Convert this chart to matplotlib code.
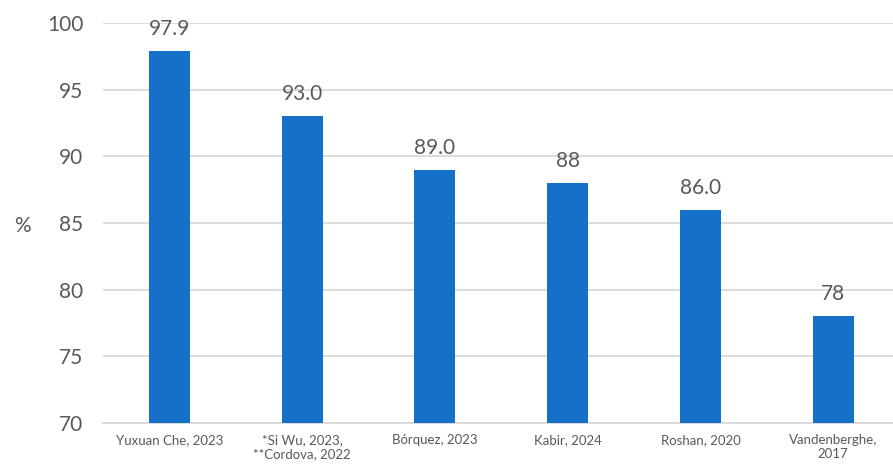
import matplotlib.pyplot as plt
import numpy as np

labels = ["Yuxuan Che, 2023", "*Si Wu, 2023,\n**Cordova, 2022", "Bórquez, 2023",
          "Kabir, 2024", "Roshan, 2020", "Vandenberghe,\n2017"]
values = [97.9, 93.0, 89.0, 88, 86.0, 78]
value_text = ["97.9", "93.0", "89.0", "88", "86.0", "78"]

plt.rcParams['font.family'] = ['Lato', 'DejaVu Sans']
grey = '#595959'
blue = '#1570C8'

fig = plt.figure(figsize=(8.93, 4.71), dpi=100)
ax = fig.add_axes([0.1153, 0.1019, 0.8847, 0.8493])

x = np.arange(len(labels))
ax.bar(x, values, width=0.31, color=blue, zorder=3)
for xi, v, t in zip(x, values, value_text):
    ax.text(xi, v + 0.9, t, ha='center', va='bottom', fontsize=15, color=grey)

ax.set_ylim(70, 100)
ax.set_xlim(-0.5, 5.45)
ax.set_yticks(range(70, 101, 5))
ax.yaxis.grid(True, color='#D9D9D9', linewidth=1.3, zorder=0)
ax.set_xticks(x)
ax.set_xticklabels(labels, fontsize=9.5, color=grey)
ax.tick_params(axis='y', labelsize=15, colors=grey, length=0, pad=14)
ax.tick_params(axis='x', length=0, pad=8)
for s in ['top', 'right', 'left']:
    ax.spines[s].set_visible(False)
ax.spines['bottom'].set_color('#D9D9D9')
ax.spines['bottom'].set_linewidth(1.3)
fig.text(0.025, 0.52, '%', fontsize=15, color=grey, ha='center', va='center')

fig.savefig('out.png', dpi=100)
